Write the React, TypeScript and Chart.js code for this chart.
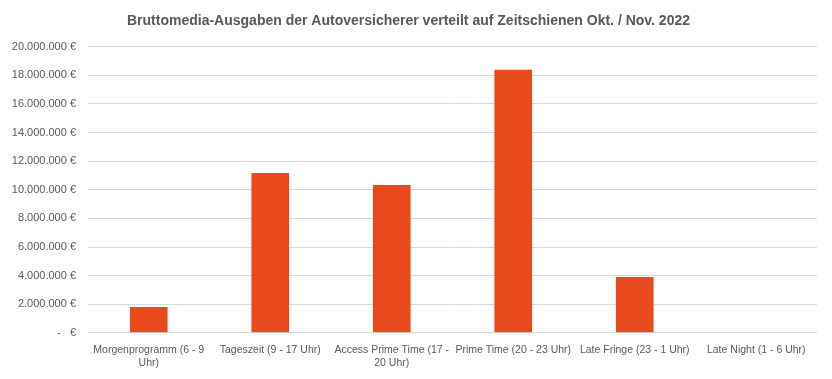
import React, { useEffect, useRef } from "react";
import { Chart, registerables } from "chart.js";

Chart.register(...registerables);

const categories: (string | string[])[] = [
  ["Morgenprogramm (6 - 9", "Uhr)"],
  "Tageszeit (9 - 17 Uhr)",
  ["Access Prime Time (17 -", "20 Uhr)"],
  "Prime Time (20 - 23 Uhr)",
  "Late Fringe (23 - 1 Uhr)",
  "Late Night (1 - 6 Uhr)",
];

const spending: number[] = [1800000, 11180000, 10340000, 18390000, 3900000, 0];

const yTicks: number[] = [0, 2000000, 4000000, 6000000, 8000000, 10000000, 12000000, 14000000, 16000000, 18000000, 20000000];

const titleText = "Bruttomedia-Ausgaben der Autoversicherer verteilt auf Zeitschienen Okt. / Nov. 2022";

function formatEuro(v: number): string {
  if (v === 0) return "-   €";
  return v.toLocaleString("de-DE") + " €";
}

export default function App() {
  const ref = useRef<HTMLCanvasElement | null>(null);

  useEffect(() => {
    document.body.style.margin = "0";
    const canvas = ref.current;
    if (!canvas) return;
    const chart = new Chart(canvas, {
      type: "bar",
      data: {
        labels: categories,
        datasets: [
          {
            data: spending,
            backgroundColor: "#E8491D",
            borderWidth: 0,
            categoryPercentage: 1,
            barPercentage: 0.31,
          },
        ],
      },
      options: {
        animation: false,
        responsive: false,
        maintainAspectRatio: false,
        layout: { padding: { left: 0, right: 15, top: 0, bottom: 7 } },
        plugins: {
          legend: { display: false },
          tooltip: { enabled: false },
          title: {
            display: true,
            text: titleText,
            color: "#595959",
            font: { family: "Liberation Sans", size: 14, weight: "bold" },
            padding: { top: 13, bottom: 17 },
          },
        },
        scales: {
          x: {
            grid: { display: false },
            border: { display: false },
            ticks: {
              color: "#595959",
              font: { family: "Liberation Sans", size: 10.5 },
              autoSkip: false,
              maxRotation: 0,
              minRotation: 0,
              padding: 3,
            },
          },
          y: {
            min: 0,
            max: 20000000,
            afterFit: (scale: any) => {
              scale.width = 88;
            },
            afterBuildTicks: (scale: any) => {
              scale.ticks = yTicks.map((v) => ({ value: v }));
            },
            grid: { color: "#D9D9D9", drawTicks: false, lineWidth: 1 },
            border: { display: false },
            ticks: {
              color: "#595959",
              font: { family: "Liberation Sans", size: 11 },
              padding: 12,
              callback: (v: any) => formatEuro(Number(v)),
            },
          },
        },
      },
    });
    return () => chart.destroy();
  }, []);

  return (
    <div style={{ width: 832, height: 379, background: "#fff" }}>
      <canvas ref={ref} width={832} height={379} />
    </div>
  );
}
